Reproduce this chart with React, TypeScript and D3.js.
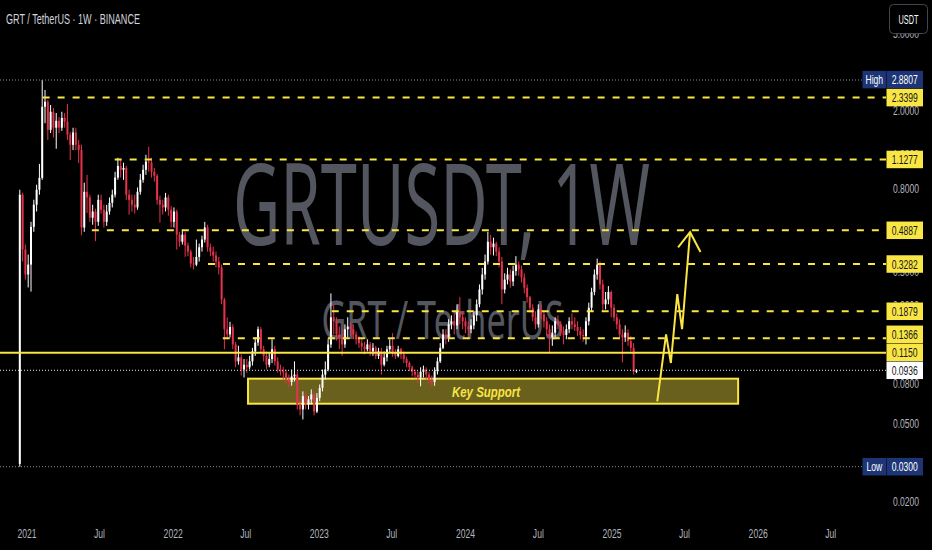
import React from "react";
import * as d3 from "d3";

const W = 932;
const H = 550;

// ---- data (weekly GRT/USDT candles, Binance) ----
const firstWeek = "2020-12-14";
const firstOpen = 0.031;
const closes = [
  0.744, 0.389, 0.29, 0.326, 0.509, 0.661, 0.789, 0.907, 2.1, 2.23,
  1.6, 1.98, 1.64, 1.78, 1.64, 1.84, 1.76, 1.51, 1.34, 1.55,
  1.34, 1.26, 0.505, 0.77, 0.72, 0.567, 0.61, 0.54, 0.7, 0.623,
  0.54, 0.61, 0.676, 0.744, 0.91, 1.045, 0.998, 1.02, 0.744, 0.7,
  0.661, 0.64, 0.77, 0.887, 0.998, 1.1, 1.085, 0.975, 0.93, 0.7,
  0.661, 0.64, 0.72, 0.623, 0.54, 0.61, 0.464, 0.427, 0.464, 0.408,
  0.38, 0.33, 0.326, 0.357, 0.4, 0.438, 0.505, 0.4, 0.38, 0.363,
  0.338, 0.315, 0.216, 0.152, 0.143, 0.156, 0.127, 0.104, 0.109, 0.0945,
  0.1, 0.097, 0.104, 0.117, 0.13, 0.152, 0.12, 0.111, 0.1, 0.107,
  0.12, 0.104, 0.0945, 0.0925, 0.091, 0.084, 0.0815, 0.087, 0.089, 0.0626,
  0.059, 0.069, 0.0626, 0.0664, 0.0704, 0.0575, 0.0677, 0.076, 0.089, 0.0945,
  0.127, 0.175, 0.167, 0.143, 0.138, 0.127, 0.152, 0.157, 0.152, 0.143,
  0.135, 0.129, 0.124, 0.12, 0.127, 0.117, 0.122, 0.111, 0.117, 0.1,
  0.109, 0.12, 0.125, 0.115, 0.111, 0.12, 0.113, 0.107, 0.102, 0.097,
  0.092, 0.089, 0.086, 0.092, 0.0945, 0.089, 0.084, 0.0815, 0.0925, 0.104,
  0.122, 0.143, 0.138, 0.161, 0.167, 0.159, 0.188, 0.175, 0.167, 0.157,
  0.152, 0.159, 0.179, 0.204, 0.243, 0.29, 0.338, 0.427, 0.4, 0.418,
  0.38, 0.338, 0.243, 0.273, 0.29, 0.267, 0.302, 0.326, 0.308, 0.28,
  0.248, 0.222, 0.196, 0.175, 0.161, 0.192, 0.181, 0.167, 0.152, 0.138,
  0.146, 0.167, 0.161, 0.149, 0.142, 0.152, 0.167, 0.161, 0.156, 0.149,
  0.142, 0.14, 0.167, 0.196, 0.236, 0.29, 0.326, 0.258, 0.204, 0.216,
  0.236, 0.196, 0.175, 0.161, 0.143, 0.138, 0.146, 0.132, 0.122, 0.092,
  0.0936,
];
const highs = [
  0.789, 0.76, 0.413, 0.367, 0.54, 0.701, 0.837, 1.07, 2.8807, 2.56,
  2.276, 2.146, 2.07, 1.95, 1.86, 1.98, 1.95, 2.17, 1.56, 1.64,
  1.64, 1.42, 1.34, 0.857, 0.94, 0.744, 0.661, 0.63, 0.744, 0.744,
  0.66, 0.66, 0.72, 0.789, 0.975, 1.15, 1.123, 1.085, 1.045, 0.789,
  0.744, 0.744, 0.81, 0.95, 1.059, 1.191, 1.31, 1.15, 1.02, 0.95,
  0.735, 0.7, 0.76, 0.744, 0.65, 0.64, 0.623, 0.48, 0.493, 0.48,
  0.423, 0.389, 0.357, 0.438, 0.418, 0.459, 0.54, 0.522, 0.418, 0.403,
  0.38, 0.357, 0.326, 0.22, 0.175, 0.166, 0.161, 0.131, 0.125, 0.113,
  0.107, 0.107, 0.111, 0.122, 0.138, 0.157, 0.156, 0.125, 0.117, 0.115,
  0.135, 0.125, 0.109, 0.1, 0.0975, 0.0945, 0.0891, 0.0945, 0.104, 0.0925,
  0.0664, 0.073, 0.0715, 0.069, 0.0747, 0.073, 0.0715, 0.0792, 0.0945, 0.104,
  0.135, 0.232, 0.204, 0.175, 0.157, 0.152, 0.161, 0.175, 0.166, 0.161,
  0.148, 0.14, 0.135, 0.131, 0.135, 0.131, 0.129, 0.125, 0.122, 0.122,
  0.117, 0.125, 0.135, 0.145, 0.12, 0.125, 0.122, 0.117, 0.11, 0.104,
  0.099, 0.0945, 0.0925, 0.097, 0.099, 0.097, 0.092, 0.088, 0.097, 0.109,
  0.129, 0.152, 0.152, 0.171, 0.179, 0.181, 0.204, 0.222, 0.188, 0.175,
  0.166, 0.171, 0.188, 0.216, 0.258, 0.314, 0.367, 0.48, 0.464, 0.448,
  0.427, 0.4, 0.357, 0.294, 0.314, 0.308, 0.322, 0.36, 0.338, 0.322,
  0.294, 0.258, 0.225, 0.204, 0.188, 0.204, 0.204, 0.188, 0.175, 0.161,
  0.159, 0.175, 0.179, 0.167, 0.157, 0.161, 0.175, 0.183, 0.175, 0.167,
  0.156, 0.152, 0.175, 0.208, 0.248, 0.308, 0.35, 0.338, 0.273, 0.236,
  0.253, 0.24, 0.204, 0.183, 0.171, 0.152, 0.159, 0.152, 0.14, 0.129,
  0.095,
];
const lows = [
  0.03, 0.338, 0.273, 0.249, 0.237, 0.48, 0.61, 0.744, 0.887, 1.73,
  1.42, 1.54, 1.46, 1.28, 1.54, 1.58, 1.64, 1.42, 1.12, 1.26,
  1.26, 1.08, 0.46, 0.48, 0.6, 0.54, 0.522, 0.43, 0.515, 0.595,
  0.505, 0.515, 0.588, 0.64, 0.72, 0.887, 0.91, 0.887, 0.7, 0.588,
  0.61, 0.595, 0.623, 0.744, 0.857, 0.941, 0.975, 0.91, 0.868, 0.661,
  0.535, 0.588, 0.61, 0.58, 0.505, 0.505, 0.389, 0.403, 0.413, 0.357,
  0.36, 0.315, 0.308, 0.32, 0.338, 0.38, 0.423, 0.38, 0.36, 0.338,
  0.315, 0.29, 0.204, 0.12, 0.135, 0.138, 0.12, 0.097, 0.1, 0.088,
  0.086, 0.091, 0.0945, 0.099, 0.111, 0.125, 0.115, 0.104, 0.0945, 0.097,
  0.102, 0.099, 0.091, 0.088, 0.084, 0.08, 0.0765, 0.078, 0.082, 0.059,
  0.055, 0.0524, 0.059, 0.059, 0.0626, 0.055, 0.0565, 0.065, 0.073, 0.084,
  0.0925, 0.122, 0.143, 0.133, 0.12, 0.111, 0.122, 0.138, 0.14, 0.135,
  0.127, 0.122, 0.117, 0.113, 0.117, 0.111, 0.111, 0.107, 0.107, 0.089,
  0.098, 0.104, 0.115, 0.11, 0.107, 0.109, 0.107, 0.102, 0.097, 0.0925,
  0.087, 0.085, 0.081, 0.0775, 0.086, 0.084, 0.08, 0.0775, 0.078, 0.089,
  0.102, 0.12, 0.127, 0.131, 0.152, 0.143, 0.152, 0.161, 0.152, 0.145,
  0.135, 0.145, 0.152, 0.167, 0.197, 0.229, 0.273, 0.326, 0.367, 0.363,
  0.36, 0.315, 0.204, 0.232, 0.258, 0.248, 0.253, 0.286, 0.286, 0.264,
  0.232, 0.208, 0.185, 0.167, 0.152, 0.155, 0.171, 0.155, 0.14, 0.114,
  0.125, 0.138, 0.152, 0.14, 0.127, 0.135, 0.145, 0.152, 0.149, 0.14,
  0.135, 0.131, 0.127, 0.159, 0.188, 0.227, 0.273, 0.243, 0.188, 0.192,
  0.204, 0.175, 0.167, 0.152, 0.135, 0.103, 0.131, 0.125, 0.117, 0.089,
  0.0905,
];

// ---- horizontal levels ----
const levelValues = [2.3399, 1.1277, 0.4887, 0.3282, 0.1879, 0.1366];
const levelStarts = ["2021-02-09", "2021-08-08", "2021-06-12", "2022-03-29", "2023-02-01", "2022-05-05"];
const supportValue = 0.115;
const currentPrice = 0.0936;
const highValue = 2.8807;
const lowValue = 0.03;

// ---- key support zone ----
const zoneTop = 0.0848;
const zoneBottom = 0.0631;
const zoneStart = "2022-07-07";
const zoneEnd = "2025-11-12";

// ---- projected path ----
const pathDates = ["2025-04-24", "2025-05-16", "2025-05-28", "2025-06-13", "2025-06-25", "2025-07-15"];
const pathPrices = [0.0648, 0.143, 0.102, 0.23, 0.152, 0.478];
const headDates = ["2025-06-15", "2025-07-15", "2025-08-10"];
const headPrices = [0.4, 0.478, 0.378];

// ---- axes (ticks that are fully covered by labels in the reference are left out) ----
const priceTicks = [5, 2, 1.2, 0.8, 0.3, 0.2, 0.08, 0.05, 0.02];
const timeTicks = [
  "2021-01-01", "2021-07-01", "2022-01-01", "2022-07-01", "2023-01-01", "2023-07-01",
  "2024-01-01", "2024-07-01", "2025-01-01", "2025-07-01", "2026-01-01", "2026-07-01",
];
const timeTickLabels = ["2021", "Jul", "2022", "Jul", "2023", "Jul", "2024", "Jul", "2025", "Jul", "2026", "Jul"];

const FONT = "'Liberation Sans', Arial, sans-serif";
const YELLOW = "#f9e543";
const UP = "#ffffff";
const DOWN = "#e5334b";
const NAVY = "#1d3576";
const PANE_RIGHT = 886;

const pd = (s: string) => new Date(s + "T00:00:00Z");

const x = d3.scaleUtc().domain([pd("2021-01-01"), pd("2025-01-01")]).range([27, 612]);
const y = d3.scaleLog().domain([lowValue, highValue]).range([466.7, 80]);

function T(props: any) {
  const { x: tx, y: ty, size = 13, sx = 0.66, anchor = "middle", fill = "#b2b5be", weight = "normal", italic = false, children } = props;
  return (
    <text
      transform={`translate(${tx},${ty}) scale(${sx},1)`}
      fontSize={size}
      fontFamily={FONT}
      textAnchor={anchor}
      fill={fill}
      fontWeight={weight}
      fontStyle={italic ? "italic" : "normal"}
    >
      {children}
    </text>
  );
}

export default function App() {
  const start = pd(firstWeek).getTime();
  const candles = closes.map((c, i) => ({
    date: new Date(start + i * 7 * 864e5),
    open: i === 0 ? firstOpen : closes[i - 1],
    close: c,
    high: highs[i],
    low: lows[i],
  }));

  // right-side labels with collision handling (current price fixed)
  type Lab = { v: number; kind: "level" | "support" | "current" | "high" | "low"; y: number };
  const labs: Lab[] = [
    { v: highValue, kind: "high", y: y(highValue) },
    ...levelValues.map((v) => ({ v, kind: "level" as const, y: y(v) })),
    { v: supportValue, kind: "support", y: y(supportValue) },
    { v: currentPrice, kind: "current", y: y(currentPrice) },
    { v: lowValue, kind: "low", y: y(lowValue) },
  ].sort((a, b) => a.y - b.y);
  const gap = 18;
  const ci = labs.findIndex((l) => l.kind === "current");
  for (let i = ci - 1; i >= 0; i--) labs[i].y = Math.min(labs[i].y, labs[i + 1].y - gap);
  for (let i = ci + 1; i < labs.length; i++) labs[i].y = Math.max(labs[i].y, labs[i - 1].y + gap);

  const line = d3.line<[number, number]>().x((d) => d[0]).y((d) => d[1]);
  const pathPts: [number, number][] = pathDates.map((d, i) => [x(pd(d)), y(pathPrices[i])]);
  const headPts: [number, number][] = headDates.map((d, i) => [x(pd(d)), y(headPrices[i])]);

  const bodyW = 2;

  return (
    <svg width={W} height={H} style={{ display: "block", position: "absolute", left: 0, top: 0, background: "#000" }}>
      <rect x={0} y={0} width={W} height={H} fill="#000" />

      {/* watermark */}
      <text x={441.5} y={245} fontSize={113} fontFamily="'Noto Sans', 'Liberation Sans', sans-serif" textAnchor="middle" fill="#53565e" textLength={417} lengthAdjust="spacingAndGlyphs">
        GRTUSDT, 1W
      </text>
      <text x={442.5} y={338.5} fontSize={53} fontFamily="'Noto Sans', 'Liberation Sans', sans-serif" textAnchor="middle" fill="#53565e" textLength={242} lengthAdjust="spacingAndGlyphs">
        GRT / TetherUS
      </text>

      {/* key support zone */}
      <rect
        x={x(pd(zoneStart))}
        y={y(zoneTop)}
        width={x(pd(zoneEnd)) - x(pd(zoneStart))}
        height={y(zoneBottom) - y(zoneTop)}
        fill="rgba(249,229,67,0.42)"
        stroke={YELLOW}
        strokeWidth={2}
      />

      {/* candles */}
      {candles.map((c, i) => {
        const cx = x(c.date);
        const up = c.close >= c.open;
        const col = up ? UP : DOWN;
        const yTop = y(Math.max(c.open, c.close));
        const yBot = y(Math.min(c.open, c.close));
        return (
          <g key={i}>
            <line x1={cx} x2={cx} y1={y(c.high)} y2={y(c.low)} stroke={col} strokeWidth={1} />
            <rect x={cx - bodyW / 2} y={yTop} width={bodyW} height={Math.max(1, yBot - yTop)} fill={col} />
          </g>
        );
      })}

      {/* dotted high / low / current price lines */}
      <line x1={0} x2={862} y1={y(highValue)} y2={y(highValue)} stroke="#8a8d96" strokeWidth={1} strokeDasharray="1 2" />
      <line x1={0} x2={864} y1={y(lowValue)} y2={y(lowValue)} stroke="#8a8d96" strokeWidth={1} strokeDasharray="1 2" />
      <line x1={0} x2={PANE_RIGHT} y1={y(currentPrice)} y2={y(currentPrice)} stroke="#e8e8e8" strokeWidth={1} strokeDasharray="1 2" />

      {/* dashed levels */}
      {levelValues.map((v, i) => (
        <line key={v} x1={x(pd(levelStarts[i]))} x2={PANE_RIGHT} y1={y(v)} y2={y(v)} stroke={YELLOW} strokeWidth={2} strokeDasharray="7 8" />
      ))}
      {/* solid support */}
      <line x1={0} x2={PANE_RIGHT} y1={y(supportValue)} y2={y(supportValue)} stroke={YELLOW} strokeWidth={2} />

      {/* key support text */}
      <text x={486} y={396.5} fontSize={15} fontFamily={FONT} fontWeight="bold" fontStyle="italic" fill={YELLOW} textAnchor="middle" textLength={68} lengthAdjust="spacingAndGlyphs">
        Key Support
      </text>

      {/* projected path */}
      <path d={line(pathPts) || ""} fill="none" stroke={YELLOW} strokeWidth={2} strokeLinejoin="miter" />
      <path d={line(headPts) || ""} fill="none" stroke={YELLOW} strokeWidth={2} strokeLinejoin="miter" />

      {/* price axis ticks */}
      {priceTicks.map((v) => (
        <T key={v} x={906} y={y(v) + 4.5} fill="#b2b5be">
          {v.toFixed(4)}
        </T>
      ))}

      {/* price axis labels */}
      {labs.map((l) => {
        const bx = 886.5;
        const bw = 36.5;
        const bh = 17.5;
        let fill = YELLOW;
        let tc = "#131722";
        if (l.kind === "high" || l.kind === "low") {
          fill = NAVY;
          tc = "#ffffff";
        }
        if (l.kind === "current") {
          fill = "#ffffff";
          tc = "#131722";
        }
        return (
          <g key={l.kind + l.v}>
            {(l.kind === "high" || l.kind === "low") && (
              <g>
                <rect x={862.5} y={l.y - bh / 2} width={23.5} height={bh} fill={NAVY} />
                <T x={874.3} y={l.y + 4.5} fill="#ffffff">
                  {l.kind === "high" ? "High" : "Low"}
                </T>
              </g>
            )}
            <rect x={bx} y={l.y - bh / 2} width={bw} height={bh} fill={fill} />
            <T x={bx + bw / 2} y={l.y + 4.5} fill={tc}>
              {l.v.toFixed(4)}
            </T>
          </g>
        );
      })}

      {/* time axis */}
      {timeTicks.map((d, i) => (
        <T key={d} x={x(pd(d))} y={537.5} fill="#b2b5be">
          {timeTickLabels[i]}
        </T>
      ))}

      {/* title */}
      <text x={6} y={24} fontSize={15} fontFamily={FONT} fill="#d1d4dc" textLength={134} lengthAdjust="spacingAndGlyphs">
        GRT / TetherUS · 1W · BINANCE
      </text>

      {/* currency button */}
      <rect x={889.5} y={4.5} width={38} height={29} rx={4} fill="#000" stroke="#434651" strokeWidth={1} />
      <text x={908.5} y={23.5} fontSize={13} fontFamily={FONT} fill="#ffffff" textAnchor="middle" textLength={20} lengthAdjust="spacingAndGlyphs">
        USDT
      </text>
    </svg>
  );
}
